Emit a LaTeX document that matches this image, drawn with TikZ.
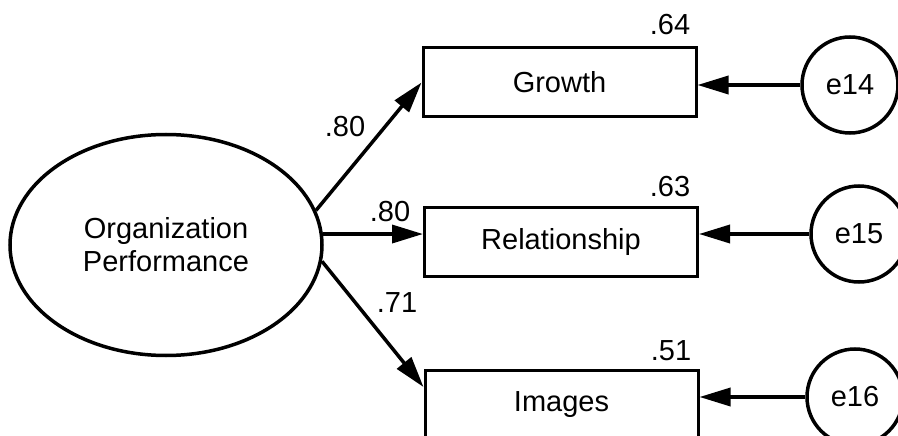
\documentclass[tikz,border=0pt]{standalone}
\usepackage{fontspec}
\setmainfont{Liberation Sans}
\usetikzlibrary{arrows.meta,shapes.geometric}
\begin{document}
\begin{tikzpicture}[x=1pt,y=-1pt,
  every node/.style={font=\fontsize{29}{33}\selectfont, inner sep=0pt},
  latent/.style={draw, line width=3.5pt, ellipse, minimum width=312pt, minimum height=221pt, align=center},
  obs/.style={draw, line width=3pt, rectangle, minimum width=273pt, minimum height=69pt},
  err/.style={draw, line width=3.5pt, circle, minimum size=96pt},
  path/.style={line width=3.5pt, -{Triangle[length=31pt,width=18pt]}},
  coef/.style={}]
\clip (0,0) rectangle (898,436);
\fill[white] (0,0) rectangle (898,436);
\node[latent] (op) at (166,245) {Organization\\Performance};
\node[obs] (gr) at (559.5,82.5) {Growth};
\node[obs] (re) at (561,242) {Relationship};
\node[obs] (im) at (561.5,404.5) {Images};
\node[err] (e14) at (850,85) {e14};
\node[err] (e15) at (859,234) {e15};
\node[err] (e16) at (855,397) {e16};
\draw[path] (e14.west) -- (e14.west -| gr.east);
\draw[path] (e15.west) -- (e15.west -| re.east);
\draw[path] (e16.west) -- (e16.west -| im.east);
\draw[path] (op.13) -- (gr.west);
\draw[path] (op.4.4) -- (op.4.4 -| re.west);
\coordinate (imin) at ([yshift=17.5pt]im.west);
\draw[path] (op.-6.6) -- (imin);
\node[coef] (c1) at (345,127) {.80};
\node[coef] (c2) at (390,212) {.80};
\node[coef] (c3) at (397,303) {.71};
\node[coef] (r1) at (670,25) {.64};
\node[coef] (r2) at (670,187) {.63};
\node[coef] (r3) at (671,351) {.51};
\end{tikzpicture}
\end{document}
